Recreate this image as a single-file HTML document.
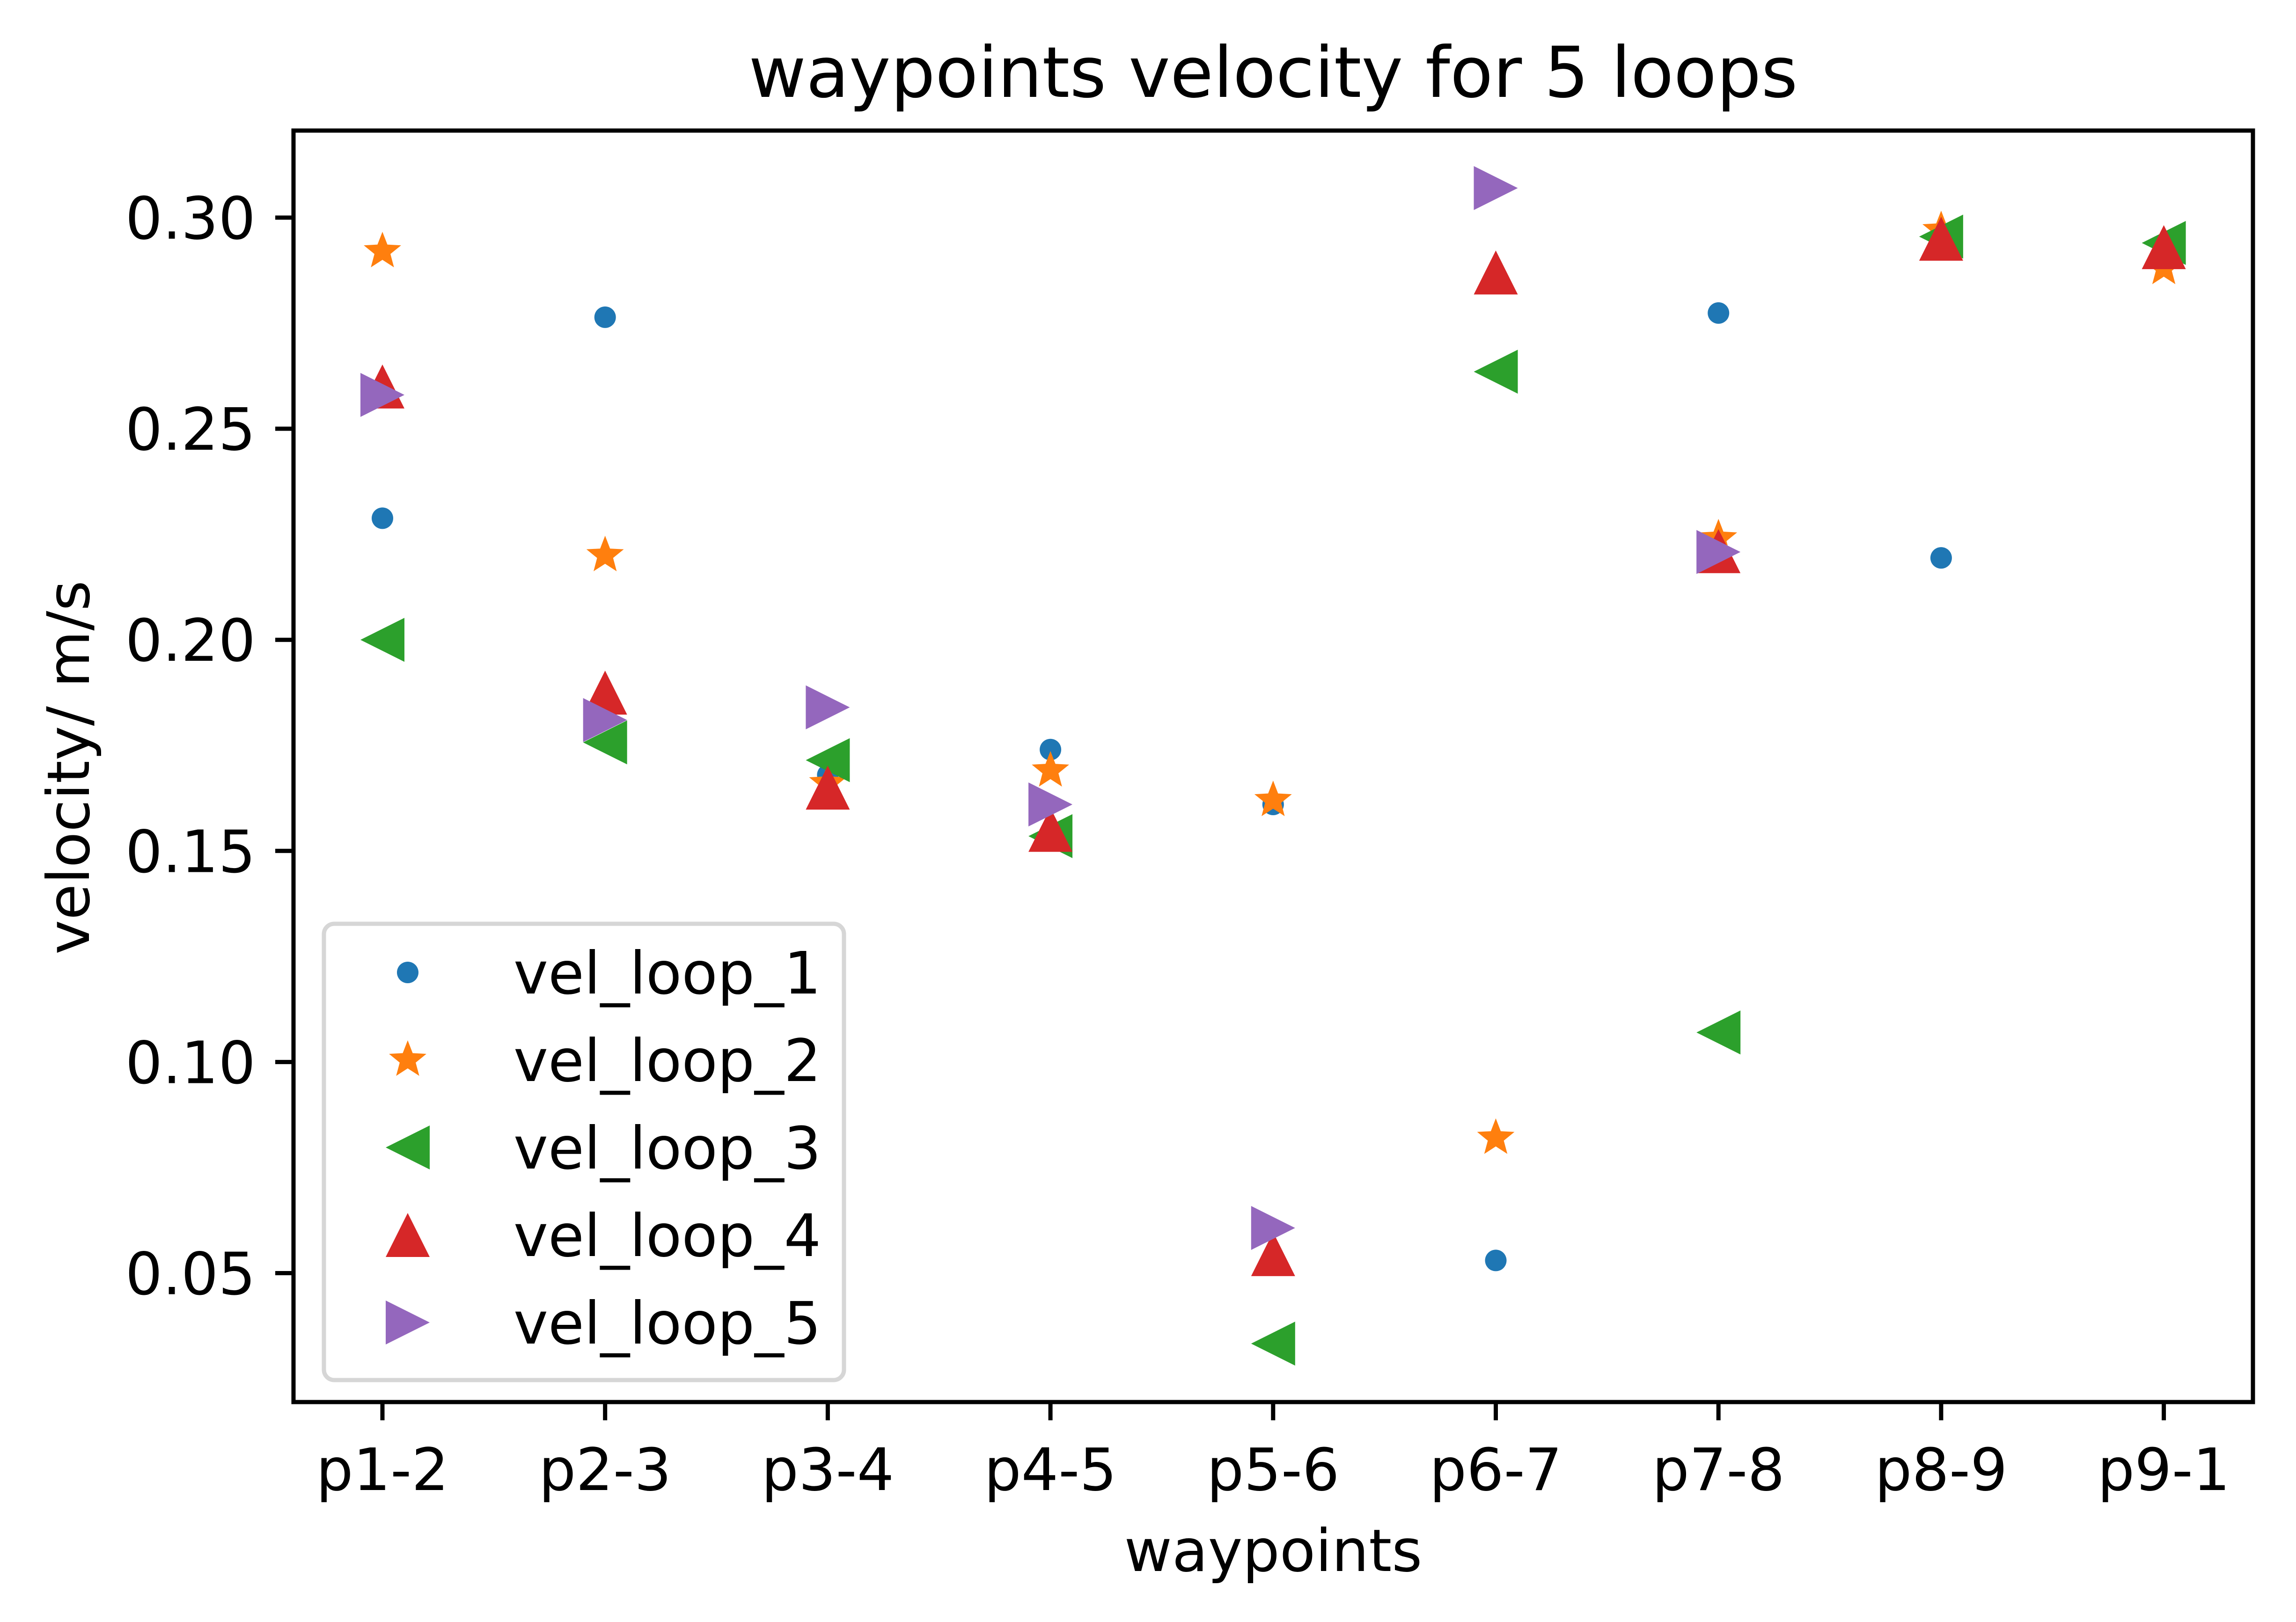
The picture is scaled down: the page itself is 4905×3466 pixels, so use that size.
<!DOCTYPE html>
<html><head><meta charset="utf-8"><style>
html,body{margin:0;padding:0;background:#fff}
svg{display:block}
text{font-family:"DejaVu Sans","Liberation Sans",sans-serif;fill:#000}
</style></head><body>
<svg id="chart" width="4905" height="3466" viewBox="0 0 4905 3466" xmlns="http://www.w3.org/2000/svg">
<rect width="4905" height="3466" fill="#fff"/>
<text x="2720" y="207" font-size="150" text-anchor="middle">waypoints velocity for 5 loops</text>
<g id="marks"></g>
<rect x="627" y="279" width="4186" height="2717" fill="none" stroke="#000" stroke-width="9"/>
<g id="axes"></g>
<text x="2720" y="3357" font-size="125" text-anchor="middle">waypoints</text>
<text transform="translate(190,1640) rotate(-90)" font-size="125" text-anchor="middle">velocity/ m/s</text>
<g id="legend">
<rect x="692" y="1974" width="1111" height="975" rx="22" fill="#fff" fill-opacity="0.8" stroke="#d6d6d6" stroke-width="9"/>
</g>
</svg>
<script>
const categories = ["p1-2","p2-3","p3-4","p4-5","p5-6","p6-7","p7-8","p8-9","p9-1"];
const loop1 = [0.2288,0.2764,0.168,0.174,0.161,0.053,0.2774,0.2194,0.290];
const loop2 = [0.292,0.220,0.166,0.169,0.162,0.082,0.224,0.297,0.288];
const loop3 = [0.200,0.1757,0.1715,0.1535,0.0333,0.2635,0.107,0.2955,0.294];
const loop4 = [0.260,0.1875,0.165,0.155,0.0545,0.287,0.221,0.295,0.293];
const loop5 = [0.258,0.181,0.184,0.161,0.0607,0.307,0.2208,null,null];
const yTicks = [0.05,0.10,0.15,0.20,0.25,0.30];
const seriesNames = ["vel_loop_1","vel_loop_2","vel_loop_3","vel_loop_4","vel_loop_5"];

const NS="http://www.w3.org/2000/svg";
const X0=817, XSTEP=475.7;
const Y30=465, PER=451.1/0.05;
function xs(i){return X0+i*XSTEP;}
function ys(v){return Y30+(0.30-v)*PER;}
function mk(tag,attrs,parent){const e=document.createElementNS(NS,tag);for(const k in attrs)e.setAttribute(k,attrs[k]);parent.appendChild(e);return e;}
const colors=["#1f77b4","#ff7f0e","#2ca02c","#d62728","#9467bd"];
const shapes=["dot","star","left","up","right"];
function marker(shape,cx,cy,color,parent){
  const s=47;
  if(shape==="dot") return mk("circle",{cx:cx,cy:cy,r:23,fill:color},parent);
  if(shape==="star"){
    let p=[];
    for(let k=0;k<10;k++){const r=k%2?18:42;const a=-Math.PI/2+k*Math.PI/5;p.push((cx+r*Math.cos(a)).toFixed(1)+","+(cy+r*Math.sin(a)).toFixed(1));}
    return mk("polygon",{points:p.join(" "),fill:color},parent);
  }
  let pts;
  if(shape==="up") pts=[[cx,cy-s],[cx-s,cy+s],[cx+s,cy+s]];
  if(shape==="left") pts=[[cx-s,cy],[cx+s,cy-s],[cx+s,cy+s]];
  if(shape==="right") pts=[[cx+s,cy],[cx-s,cy-s],[cx-s,cy+s]];
  return mk("polygon",{points:pts.map(q=>q.join(",")).join(" "),fill:color},parent);
}
const marks=document.getElementById("marks");
[loop1,loop2,loop3,loop4,loop5].forEach((arr,si)=>{
  const g=mk("g",{},marks);
  
  
  arr.forEach((v,i)=>{
    if(v===null) return;
    const m=marker(shapes[si],xs(i),ys(v),colors[si],g);
    
    
  });
});
const axes=document.getElementById("axes");
categories.forEach((c,i)=>{
  const t=mk("line",{x1:xs(i),x2:xs(i),y1:2996,y2:3035,stroke:"#000","stroke-width":9},axes);
  
  
  const l=mk("text",{x:xs(i),y:3184,"font-size":125,"text-anchor":"middle"},axes);
  l.textContent=c;
  
  
});
yTicks.forEach(v=>{
  const t=mk("line",{x1:588,x2:627,y1:ys(v),y2:ys(v),stroke:"#000","stroke-width":9},axes);
  
  
  const l=mk("text",{x:546,y:ys(v)+45,"font-size":125,"text-anchor":"end"},axes);
  l.textContent=v.toFixed(2);
  
  
});
const legend=document.getElementById("legend");
const LY=[2078,2265,2452,2639,2826];
seriesNames.forEach((n,i)=>{
  const g=mk("g",{},legend);
  
  
  marker(shapes[i],871,LY[i],colors[i],g);
  const t=mk("text",{x:1097,y:LY[i]+45,"font-size":125},g);
  t.textContent=n;
});
</script>
</body></html>
